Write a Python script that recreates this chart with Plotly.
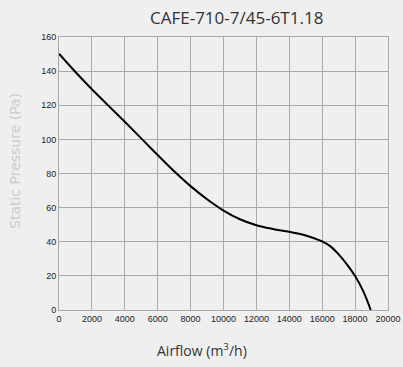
import plotly.graph_objects as go

airflow = [0, 1000, 2000, 3000, 4000, 5000, 6000, 7000, 8000, 9000, 10000,
           11000, 12000, 13000, 14000, 15000, 16000, 16500, 17000, 17500, 18000, 18500, 18950]
pressure = [150.2, 139.5, 129.4, 119.8, 110.3, 100.6, 90.8, 81.3, 72.6, 64.9, 58.3,
            53.2, 49.7, 47.5, 45.8, 43.7, 40.2, 37.3, 32.6, 26.8, 19.9, 10.9, 0.0]

x_ticks = [0, 2000, 4000, 6000, 8000, 10000, 12000, 14000, 16000, 18000, 20000]
y_ticks = [0, 20, 40, 60, 80, 100, 120, 140, 160]

title_text = "CAFE-710-7/45-6T1.18"
x_title = "Airflow (m<sup>3</sup>/h)"
y_title = "Static Pressure (Pa)"

grid = "#a9a9a9"
bg = "#efefef"
tickfont = dict(family="Liberation Sans Narrow, Arial Narrow, Liberation Sans, sans-serif", size=9, color="#222")

fig = go.Figure()
fig.add_trace(go.Scatter(x=airflow, y=pressure, mode="lines",
                         line=dict(color="black", width=2, shape="spline", smoothing=1.0),
                         hoverinfo="skip", showlegend=False))

fig.update_layout(
    width=403, height=367,
    margin=dict(l=59, r=15, t=37, b=57),
    paper_bgcolor=bg, plot_bgcolor=bg,
    xaxis=dict(range=[0, 20000], tickvals=x_ticks, ticktext=[str(v) for v in x_ticks],
               showgrid=True, gridcolor=grid, gridwidth=1, automargin=False,
               showline=True, linecolor=grid, linewidth=1, mirror=True,
               zeroline=False, ticks="", tickfont=tickfont, fixedrange=True),
    yaxis=dict(range=[0, 160], tickvals=y_ticks, ticktext=[str(v) for v in y_ticks],
               showgrid=True, gridcolor=grid, gridwidth=1, automargin=False,
               showline=True, linecolor=grid, linewidth=1, mirror=True,
               zeroline=False, ticks="", tickfont=tickfont, fixedrange=True),
    annotations=[
        dict(text=title_text, xref="paper", yref="paper", x=(236-59)/(388-59), y=1,
             yshift=20, xanchor="center", yanchor="middle", showarrow=False,
             font=dict(family="Open Sans, sans-serif", size=17, color="#333")),
        dict(text=x_title, xref="paper", yref="paper", x=(202-59)/(388-59), y=0,
             yshift=-40, xanchor="center", yanchor="middle", showarrow=False,
             font=dict(family="Open Sans, sans-serif", size=14, color="#333")),
        dict(text=y_title, xref="paper", yref="paper", x=0, y=(310-161)/(310-37),
             xshift=-44, xanchor="center", yanchor="middle", showarrow=False, textangle=-90,
             font=dict(family="DejaVu Sans, sans-serif", size=14, color="#cccccc")),
    ],
)

fig.write_html("out.html", config={"displayModeBar": False},
               post_script="document.body.style.margin='0';document.body.style.background='#efefef';")
